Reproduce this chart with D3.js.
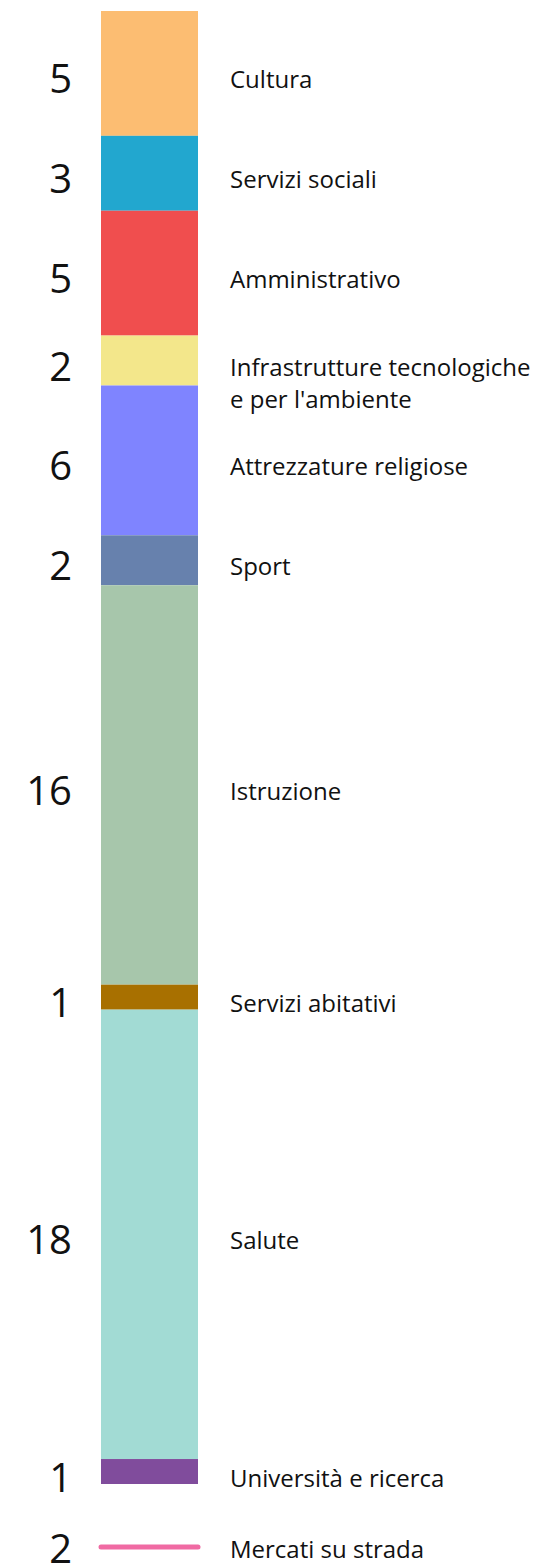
<!DOCTYPE html>
<style>
  body { margin: 0; background: white; }
  svg { display: block; font-family: "Open Sans", sans-serif; }
  .num { font-size: 40px; fill: #111; text-anchor: end; }
  .lab { font-size: 24px; fill: #111; }
</style>
<body>
</body>
<script src="https://cdn.jsdelivr.net/npm/d3@7"></script>
<script>
  const categories = ['Cultura', 'Servizi sociali', 'Amministrativo',
    "Infrastrutture tecnologiche\ne per l'ambiente", 'Attrezzature religiose', 'Sport',
    'Istruzione', 'Servizi abitativi', 'Salute', 'Università e ricerca'];
  const values = [5, 3, 5, 2, 6, 2, 16, 1, 18, 1];
  const colors = ['#fcbd72', '#22a7cf', '#f04e4e', '#f3e78b', '#7f84ff', '#6781ad',
    '#a7c6ab', '#a87000', '#a2dbd4', '#804c9c'];
  const lineCategory = 'Mercati su strada';
  const lineValue = 2;
  const lineColor = '#f06aa3';

  const w = 546, h = 1566;
  const barL = 101, barR = 198, numX = 72, labX = 230;
  const total = d3.sum(values);
  const ends = d3.cumsum(values);
  const rows = values.map((v, i) => ({
    cat: categories[i], v, color: colors[i], y0: ends[i] - v, y1: ends[i]
  }));

  const svg = d3.select('body').append('svg')
    .attr('width', w).attr('height', h);

  const y = d3.scaleLinear().domain([0, total]).range([11, 1484]);
  const x = d3.scaleLinear().domain([0, 1]).range([barL, barR]);

  svg.append('g').selectAll('rect')
    .data(rows)
    .join('rect')
    .attr('x', x(0))
    .attr('width', x(1) - x(0))
    .attr('y', d => y(d.y0))
    .attr('height', d => y(d.y1) - y(d.y0))
    .attr('fill', d => d.color);

  const mid = d => (y(d.y0) + y(d.y1)) / 2;

  svg.append('g').selectAll('text')
    .data(rows)
    .join('text')
    .attr('class', 'num')
    .attr('x', numX)
    .attr('y', d => mid(d) + 20)
    .text(d => d.v);

  svg.append('g').selectAll('text')
    .data(rows)
    .join('text')
    .attr('class', 'lab')
    .attr('y', d => mid(d) + 15)
    .each(function(d) {
      d3.select(this).selectAll('tspan')
        .data(d.cat.split('\n'))
        .join('tspan')
        .attr('x', labX)
        .attr('dy', (s, i) => i ? 32 : 0)
        .text(s => s);
    });

  // street markets drawn as a line below the bar
  const ly = y(total) + 63;
  svg.append('line')
    .attr('x1', x(0)).attr('x2', x(1))
    .attr('y1', ly).attr('y2', ly)
    .attr('stroke', lineColor)
    .attr('stroke-width', 5)
    .attr('stroke-linecap', 'round');
  svg.append('text').attr('class', 'num')
    .attr('x', numX).attr('y', ly + 16).text(lineValue);
  svg.append('text').attr('class', 'lab')
    .attr('x', labX).attr('y', ly + 11).text(lineCategory);
</script>
